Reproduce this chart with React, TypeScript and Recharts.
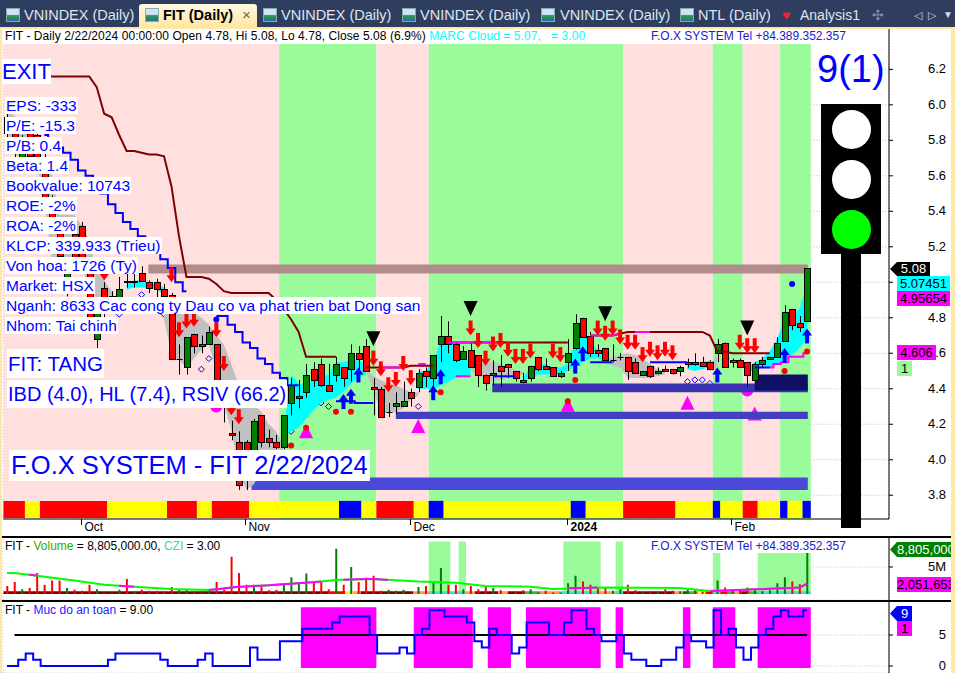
import { CSSProperties, ReactNode } from "react";
import {
    Area,
    Bar,
    CartesianGrid,
    Cell,
    ComposedChart,
    Line,
    ReferenceArea,
    ReferenceLine,
    XAxis,
    YAxis,
} from "recharts";

type Pair = [number, number];
type Band = [number, number, number];

const FONT = "'Liberation Sans', Arial, sans-serif";

const opens = [
    5.93, 5.84, 5.68, 5.86, 5.83, 5.63, 5.46, 5.34, 4.96, 5.27, 5.32, 5.05, 4.68, 4.97, 4.92, 4.90, 5.01, 5.00,
    5.05, 5.00, 5.00, 4.96, 4.93, 4.57, 4.52, 4.71, 4.64, 4.65, 4.65, 4.37, 4.15, 4.10, 4.10, 4.04, 4.25, 4.12,
    4.10, 4.07, 4.32, 4.35, 4.38, 4.51, 4.54, 4.42, 4.48, 4.52, 4.51, 4.60, 4.64, 4.41, 4.40, 4.27, 4.30, 4.30,
    4.38, 4.41, 4.50, 4.46, 4.65, 4.70, 4.65, 4.57, 4.62, 4.59, 4.48, 4.48, 4.53, 4.54, 4.50, 4.45, 4.46, 4.58,
    4.53, 4.52, 4.47, 4.55, 4.63, 4.80, 4.70, 4.62, 4.63, 4.56, 4.58, 4.58, 4.55, 4.48, 4.53, 4.49, 4.51, 4.51,
    4.50, 4.54, 4.55, 4.55, 4.55, 4.60, 4.66, 4.56, 4.56, 4.55, 4.45, 4.54, 4.57, 4.58, 4.67, 4.85, 4.77, 4.78,
];
const highs = [
    5.95, 5.86, 5.83, 5.87, 5.85, 5.75, 5.49, 5.36, 5.08, 5.30, 5.34, 5.07, 4.90, 5.00, 4.95, 5.03, 5.05, 5.05,
    5.09, 5.01, 5.02, 4.99, 4.94, 4.65, 4.69, 4.71, 4.70, 4.75, 4.65, 4.38, 4.22, 4.16, 4.11, 4.23, 4.25, 4.17,
    4.14, 4.25, 4.46, 4.45, 4.54, 4.55, 4.57, 4.54, 4.58, 4.52, 4.65, 4.64, 4.68, 4.46, 4.41, 4.32, 4.38, 4.44,
    4.40, 4.51, 4.52, 4.59, 4.81, 4.78, 4.66, 4.64, 4.66, 4.59, 4.48, 4.56, 4.59, 4.54, 4.50, 4.49, 4.53, 4.58,
    4.57, 4.52, 4.50, 4.68, 4.82, 4.80, 4.72, 4.65, 4.63, 4.65, 4.60, 4.58, 4.57, 4.50, 4.53, 4.52, 4.53, 4.51,
    4.53, 4.57, 4.60, 4.58, 4.56, 4.68, 4.66, 4.57, 4.57, 4.55, 4.55, 4.58, 4.58, 4.69, 4.87, 4.85, 4.81, 5.08,
];
const lows = [
    5.80, 5.70, 5.63, 5.69, 5.66, 5.44, 5.32, 5.12, 4.92, 5.08, 5.08, 4.76, 4.63, 4.79, 4.85, 4.85, 4.97, 4.97,
    5.01, 4.94, 4.91, 4.89, 4.57, 4.48, 4.48, 4.60, 4.60, 4.65, 4.31, 4.21, 4.11, 3.83, 3.83, 4.03, 4.07, 4.07,
    4.06, 4.06, 4.25, 4.29, 4.35, 4.41, 4.41, 4.39, 4.44, 4.41, 4.44, 4.48, 4.50, 4.25, 4.24, 4.24, 4.26, 4.30,
    4.30, 4.38, 4.41, 4.41, 4.55, 4.60, 4.55, 4.57, 4.52, 4.41, 4.39, 4.42, 4.41, 4.46, 4.44, 4.43, 4.44, 4.50,
    4.51, 4.47, 4.46, 4.50, 4.62, 4.69, 4.58, 4.58, 4.56, 4.55, 4.56, 4.45, 4.49, 4.48, 4.46, 4.48, 4.50, 4.48,
    4.47, 4.52, 4.53, 4.53, 4.51, 4.55, 4.52, 4.52, 4.52, 4.41, 4.45, 4.52, 4.57, 4.58, 4.67, 4.73, 4.72, 4.78,
];
const closes = [
    5.84, 5.75, 5.74, 5.71, 5.69, 5.46, 5.37, 5.15, 5.05, 5.12, 5.12, 4.79, 4.83, 4.87, 4.90, 4.96, 5.00, 5.01,
    5.01, 4.97, 4.96, 4.92, 4.57, 4.57, 4.69, 4.64, 4.65, 4.72, 4.34, 4.31, 4.14, 3.86, 3.90, 4.22, 4.10, 4.10,
    4.07, 4.25, 4.42, 4.36, 4.48, 4.45, 4.42, 4.39, 4.54, 4.46, 4.60, 4.57, 4.50, 4.40, 4.24, 4.27, 4.32, 4.33,
    4.35, 4.49, 4.47, 4.59, 4.70, 4.65, 4.56, 4.61, 4.52, 4.48, 4.43, 4.49, 4.50, 4.52, 4.46, 4.44, 4.53, 4.51,
    4.51, 4.47, 4.49, 4.60, 4.77, 4.69, 4.60, 4.60, 4.56, 4.56, 4.58, 4.50, 4.49, 4.50, 4.47, 4.50, 4.50, 4.49,
    4.52, 4.55, 4.54, 4.53, 4.51, 4.65, 4.52, 4.55, 4.52, 4.48, 4.54, 4.56, 4.58, 4.66, 4.83, 4.76, 4.75, 5.08,
];
const volumes = [
    1.5, 2.2, 0.9, 1.1, 3.9, 1.7, 2.5, 2.5, 1.1, 0.8, 0.6, 1.7, 0.9, 0.2, 0.2, 0.8, 2.8, 0.4, 0.8, 0.6, 0.6, 0.3,
    1.3, 0.9, 0.8, 0.3, 0.3, 0.5, 2.2, 0.8, 6.9, 3.9, 1.7, 1.7, 1.4, 0.7, 0.8, 2.0, 3.1, 1.9, 3.8, 2.3, 2.3, 0.9,
    8.4, 1.7, 5.0, 2.2, 3.0, 3.4, 0.6, 0.8, 0.6, 0.8, 0.2, 1.3, 1.5, 2.3, 4.8, 1.7, 1.7, 0.9, 1.5, 0.9, 1.5, 1.1,
    0.7, 0.2, 0.4, 0.7, 0.9, 0.3, 0.6, 0.3, 0.3, 2.0, 3.4, 2.3, 1.7, 1.2, 1.2, 0.6, 0.9, 1.7, 0.7, 0.3, 0.3, 0.5,
    0.9, 0.6, 0.5, 0.8, 0.7, 0.4, 0.3, 2.5, 1.2, 0.8, 0.8, 1.2, 0.9, 0.5, 0.7, 2.0, 3.1, 2.3, 1.8, 7.6,
];
const safety = [
    0, 0, 1, 2, 1, 0, 0, 0, 0, 0, 0, 0, 0, 0, 1, 2, 2, 2, 2, 2, 2, 1, 0, 0, 0, 0, 1, 2, 0, 0, 0, 0, 0, 3, 1, 1, 1,
    4, 4, 4, 6, 6, 6, 6, 7, 8, 8, 8, 8, 5, 2, 2, 2, 3, 2, 5, 6, 9, 9, 8, 8, 8, 7, 4, 3, 6, 5, 5, 2, 3, 7, 7, 7, 5,
    5, 7, 9, 9, 6, 5, 4, 4, 5, 2, 1, 1, 0, 0, 1, 1, 3, 5, 4, 4, 3, 9, 5, 6, 3, 1, 3, 5, 6, 8, 9, 8, 8, 9,
];

const stopLine: Pair[] = [
    [5, 6.16], [6, 6.16], [7, 6.16], [8, 6.16], [9, 6.16], [10, 6.16], [11, 6.16], [12, 6.1], [13, 5.95], [14, 5.93],
    [15, 5.83], [16, 5.74], [17, 5.74], [18, 5.73], [19, 5.72], [20, 5.72], [21, 5.71], [22, 5.54], [23, 5.26],
    [24, 5.03], [25, 5.03], [26, 5.03], [27, 5.02], [28, 4.99], [29, 4.95], [30, 4.94], [31, 4.94], [32, 4.94],
    [33, 4.94], [34, 4.94], [35, 4.94], [36, 4.9], [37, 4.85], [38, 4.79], [39, 4.72], [40, 4.58], [41, 4.58],
    [42, 4.58], [43, 4.58], [44, 4.58], [48, 4.52], [49, 4.52], [50, 4.52], [51, 4.52], [52, 4.52], [53, 4.52],
    [54, 4.53], [55, 4.53], [56, 4.53], [57, 4.53], [59, 4.66], [60, 4.66], [61, 4.66], [62, 4.66], [63, 4.66],
    [64, 4.66], [65, 4.66], [66, 4.66], [67, 4.66], [68, 4.66], [69, 4.66], [70, 4.66], [71, 4.66], [72, 4.66],
    [73, 4.66], [74, 4.66], [75, 4.66], [78, 4.7], [79, 4.7], [80, 4.7], [81, 4.7], [82, 4.71], [83, 4.72],
    [84, 4.72], [85, 4.72], [86, 4.72], [87, 4.72], [88, 4.72], [89, 4.72], [90, 4.72], [91, 4.72], [92, 4.72],
    [93, 4.72], [94, 4.7], [95, 4.61], [96, 4.61], [97, 4.6], [98, 4.6], [99, 4.6], [100, 4.6], [101, 4.6], [102, 4.6],
];
const stopMagentaRuns: Pair[] = [[50, 53], [59, 66], [78, 82], [84, 86]];
const supportMagenta: Pair[] = [
    [55, 4.54], [56, 4.54], [60, 4.47], [61, 4.47], [62, 4.47], [102, 4.52], [103, 4.54], [104, 4.55], [105, 4.58],
    [106, 4.58], [107, 4.6],
];
const supportBlue: Pair[] = [
    [5, 5.83], [6, 5.8], [7, 5.76], [8, 5.73], [9, 5.69], [10, 5.63], [11, 5.6], [12, 5.55], [13, 5.5], [14, 5.44],
    [15, 5.39], [16, 5.34], [17, 5.3], [18, 5.26], [19, 5.21], [20, 5.17], [21, 5.13], [22, 5.08], [23, 5.0],
    [24, 4.95], [28, 4.81], [29, 4.81], [30, 4.76], [31, 4.72], [32, 4.66], [33, 4.63], [34, 4.57], [35, 4.54],
    [36, 4.49], [37, 4.46], [38, 4.42], [39, 4.42], [44, 4.33], [45, 4.33], [46, 4.33], [47, 4.32], [48, 4.32],
    [49, 4.32], [65, 4.47], [66, 4.47], [67, 4.47], [68, 4.47], [78, 4.55], [79, 4.55], [80, 4.55], [81, 4.55],
    [86, 4.55], [87, 4.55], [88, 4.55], [89, 4.55], [90, 4.55], [91, 4.55], [100, 4.52], [101, 4.52], [102, 4.52],
];

// [bar, top, bottom]
const grayCloud: Band[] = [
    [0, 5.96, 5.75], [1, 5.94, 5.72], [2, 5.89, 5.7], [3, 5.84, 5.69], [4, 5.84, 5.66], [5, 5.62, 5.46], [6, 5.61, 5.13],
    [7, 5.38, 5.1], [8, 5.38, 5.08], [9, 5.38, 5.08], [10, 5.32, 5.07], [11, 5.24, 4.99], [12, 5.06, 4.9], [13, 5.01, 4.87],
    [14, 4.95, 4.87], [15, 4.87, 4.87],
    [21, 4.83, 4.79], [22, 4.87, 4.59], [23, 4.87, 4.56], [24, 4.86, 4.52], [25, 4.83, 4.57], [26, 4.8, 4.62], [27, 4.76, 4.65],
    [28, 4.7, 4.5], [29, 4.65, 4.31], [30, 4.54, 4.17], [31, 4.42, 3.94], [32, 4.37, 3.83], [33, 4.31, 3.86], [34, 4.27, 3.94],
    [35, 4.2, 4.03], [36, 4.16, 4.04], [37, 4.08, 4.04],
    [48, 4.51, 4.5], [49, 4.47, 4.39], [50, 4.45, 4.27], [51, 4.43, 4.26], [52, 4.42, 4.27], [53, 4.4, 4.29], [54, 4.38, 4.34], [55, 4.38, 4.36],
    [62, 4.52, 4.51], [63, 4.55, 4.47], [64, 4.55, 4.45], [65, 4.55, 4.44], [66, 4.54, 4.45], [67, 4.52, 4.46], [68, 4.51, 4.47], [69, 4.5, 4.48],
    [80, 4.56, 4.55], [81, 4.58, 4.53], [82, 4.59, 4.52], [83, 4.6, 4.46], [84, 4.59, 4.46], [85, 4.57, 4.46], [86, 4.54, 4.46], [87, 4.51, 4.47], [88, 4.5, 4.48],
    [94, 4.54, 4.5], [95, 4.59, 4.51],
];
const cyanCloud: Band[] = [
    [16, 4.99, 4.96], [17, 5.01, 4.97], [18, 5.01, 4.97], [19, 5.0, 4.97], [20, 4.99, 4.96], [21, 4.97, 4.93],
    [37, 4.17, 4.13], [38, 4.48, 4.16], [39, 4.43, 4.18], [40, 4.42, 4.23], [41, 4.45, 4.28], [42, 4.46, 4.32], [43, 4.48, 4.34],
    [44, 4.55, 4.35], [45, 4.55, 4.38], [46, 4.56, 4.43], [47, 4.56, 4.46], [48, 4.54, 4.48],
    [55, 4.5, 4.4], [56, 4.5, 4.4], [57, 4.56, 4.4], [58, 4.66, 4.42], [59, 4.66, 4.44], [60, 4.65, 4.46], [61, 4.59, 4.47], [62, 4.54, 4.48],
    [69, 4.46, 4.45], [70, 4.52, 4.46], [71, 4.54, 4.48], [72, 4.54, 4.48], [73, 4.52, 4.48], [74, 4.52, 4.48], [75, 4.54, 4.5],
    [76, 4.66, 4.53], [77, 4.7, 4.55], [78, 4.68, 4.57], [79, 4.61, 4.57], [80, 4.57, 4.56],
    [91, 4.54, 4.51], [92, 4.55, 4.5], [93, 4.55, 4.51], [94, 4.56, 4.52],
    [99, 4.52, 4.5], [100, 4.55, 4.5], [101, 4.57, 4.52], [102, 4.61, 4.52], [103, 4.68, 4.54], [104, 4.8, 4.55], [105, 4.82, 4.59], [106, 4.85, 4.63], [107, 5.0, 4.68],
];

const redArrows: Pair[] = [
    [10, 5.21], [13, 5.01], [22, 5.0], [23, 4.69], [24, 4.74], [25, 4.75], [28, 4.69], [29, 4.5], [30, 4.25], [31, 4.2],
    [49, 4.53], [50, 4.47], [51, 4.38], [52, 4.41], [53, 4.5], [54, 4.42], [62, 4.7], [63, 4.63], [64, 4.53], [65, 4.61],
    [66, 4.63], [67, 4.58], [68, 4.54], [69, 4.54], [70, 4.57], [73, 4.57], [74, 4.55], [79, 4.7], [80, 4.67], [81, 4.7],
    [82, 4.65], [83, 4.62], [84, 4.62], [85, 4.55], [86, 4.58], [87, 4.56], [88, 4.58], [89, 4.56], [98, 4.62], [99, 4.6], [100, 4.6],
];
const blueArrows: Pair[] = [
    [45, 4.37], [46, 4.4], [47, 4.52], [57, 4.42], [58, 4.51], [76, 4.57], [77, 4.64], [95, 4.52], [104, 4.63], [107, 4.74],
];
const blackTriangles: Pair[] = [[49, 4.64], [62, 4.81], [80, 4.78], [99, 4.7]];
const magentaTriangles: Pair[] = [[40, 4.2], [55, 4.23], [75, 4.35], [91, 4.36], [100, 4.3]];
const magentaSpots: Pair[] = [[28, 4.3], [99, 4.39]];
const redDots: Pair[] = [
    [38, 4.08], [40, 4.18], [44, 4.27], [46, 4.27], [58, 4.38], [75, 4.33], [76, 4.45], [104, 4.5], [107, 4.61],
];
const hollowDiamonds: Pair[] = [
    [15, 4.82], [18, 4.93], [21, 4.82], [26, 4.51], [27, 4.57], [38, 4.16], [39, 4.21], [40, 4.26], [41, 4.34], [42, 4.32],
    [43, 4.3], [55, 4.3], [91, 4.44], [92, 4.45], [93, 4.45], [94, 4.43],
];
const blueDots: Pair[] = [[28, 4.79], [105, 4.99]];

// price bands drawn across the right part of the price pane: [first bar, top, bottom]
const bandBrown: Band = [18.9, 5.1, 5.05];
const bandTop: Band = [64.9, 4.43, 4.38];
const bandMiddle: Band = [52, 4.27, 4.23];
const bandBottom: Band = [32.7, 3.9, 3.83];
const bandNavy: Band = [100, 4.48, 4.39];

const zoneEdges = [-0.5, 36.4, 49.4, 56.4, 82.4, 94.4, 98.4, 103.4, 107.5];
const zoneKinds = ["pink", "green", "pink", "green", "pink", "green", "pink", "green"];
const stripEdges = [
    -0.5, 2.4, 4.4, 13.4, 21.4, 25.4, 27.4, 32.4, 44.4, 47.4, 49.4, 54.4, 56.4, 58.4, 75.4, 77.4, 82.4, 89.4, 94.4, 95.4,
    98.4, 100.4, 103.4, 104.4, 106.4, 107.5,
];
const stripKinds = "RYRYRYRYBYRYBYBYRYBYRYBYB".split("");
const volumeStripEdges = [
    -0.5, 43.2, 45.2, 46.3, 47.3, 54.3, 56.6, 61.3, 62.6, 65.7, 67, 69.3, 71.4, 74, 79.3, 81.3, 82.4, 89.3, 90.4, 91.3, 92.4,
    93.4, 94.4, 95.4, 96.4, 97.4, 98.2, 99.2, 100.4, 107.5,
];
const volumeStripKinds = [
    "#800000", "#ff0000", "#ffff00", "#ff9944", "#800000", "#ff9944", "#40e0d0", "#ff9944", "#800000", "#ff9944", "#800000",
    "#33bb33", "#ff9944", "#40e0d0", "#ff9944", "#40e0d0", "#800000", "#ff9944", "#006400", "#33bb33", "#ffff00", "#ff0000",
    "#40e0d0", "#ff0000", "#33bb33", "#ff9944", "#800000", "#33bb33", "#40e0d0",
];
const volumeZones: Band[] = [
    [56.4, 59.3, 9.7], [60.4, 61.4, 9.7], [74.4, 79.4, 9.7], [81.4, 82.4, 9.7], [94.4, 95.4, 7.6], [100.4, 107.5, 7.6],
];
const safetyZones: Pair[] = [
    [39.3, 49.4], [54.4, 62.3], [64.3, 67.4], [69.4, 79.4], [81.4, 82.4], [90.4, 91.4], [94.4, 97.4], [100.4, 107.5],
];

const volumeAverage: Pair[] = [
    [0, 3.9], [1, 3.9], [4, 3.4], [9, 2.5], [13, 1.7], [17, 1.35], [22, 0.93], [27, 0.74], [31, 1.35], [35, 1.6], [42, 2.3],
    [44, 2.6], [49, 2.8], [55, 2.3], [60, 2.1], [64, 1.5], [70, 1.35], [73, 0.93], [80, 1.2], [90, 1.1], [94, 0.55], [100, 0.87],
    [106, 1.2], [107, 1.9],
];
const volumeAverageMagenta: Pair[] = [
    [3, 3.6], [4, 3.4], [15, 1.55], [16, 1.45], [17, 1.35], [27, 0.74], [28, 0.9], [29, 1.0], [30, 1.2], [31, 1.35], [32, 1.4],
    [33, 1.5], [34, 1.55], [35, 1.6], [36, 1.7], [37, 1.8], [38, 1.9], [39, 2.0], [40, 2.1], [41, 2.2], [42, 2.3], [45, 2.65],
    [46, 2.7], [47, 2.75], [48, 2.8], [49, 2.8], [50, 2.7], [51, 2.6], [75, 1.05], [76, 1.1], [77, 1.1], [78, 1.15], [79, 1.2],
    [94, 0.55], [95, 0.6], [96, 0.65], [97, 0.7], [98, 0.75], [99, 0.8], [100, 0.87], [101, 0.9], [102, 0.95], [103, 1.0],
    [104, 1.05], [105, 1.1], [106, 1.2], [107, 1.9],
];

const priceTicks = [3.8, 4.0, 4.2, 4.4, 4.6, 4.8, 5.0, 5.2, 5.4, 5.6, 5.8, 6.0, 6.2];
const monthTicks = [10, 32, 54, 75, 97];
const monthLabels = ["Oct", "Nov", "Dec", "2024", "Feb"];
const infoLines = [
    "EPS: -333", "P/E: -15.3", "P/B: 0.4", "Beta: 1.4", "Bookvalue: 10743", "ROE: -2%", "ROA: -2%", "KLCP: 339.933 (Trieu)",
    "Von hoa: 1726 (Ty)", "Market: HSX", "Nganh: 8633 Cac cong ty Dau co va phat trien bat Dong san", "Nhom: Tai chinh",
];

const fromPairs = (pairs: Pair[]) => {
    const out: (number | null)[] = opens.map(() => null);
    pairs.forEach(([i, v]) => { out[i] = v; });
    return out;
};
const fromBands = (bands: Band[]) => {
    const out: (number[] | null)[] = opens.map(() => null);
    bands.forEach(([i, top, bottom]) => { out[i] = [bottom, top]; });
    return out;
};

const stopValues = fromPairs(stopLine);
const stopMagenta = stopValues.map((v, i) => (stopMagentaRuns.some(([a, b]) => i >= a && i <= b) ? v : null));
const support = fromPairs(supportBlue);
const supportPink = fromPairs(supportMagenta);
const gray = fromBands(grayCloud);
const cyan = fromBands(cyanCloud);
const downs = fromPairs(redArrows);
const ups = fromPairs(blueArrows);
const blackTri = fromPairs(blackTriangles);
const pinkTri = fromPairs(magentaTriangles);
const pinkSpot = fromPairs(magentaSpots);
const reds = fromPairs(redDots);
const hollows = fromPairs(hollowDiamonds);
const blues = fromPairs(blueDots);
const avg = fromPairs(volumeAverage);
const avgPink = fromPairs(volumeAverageMagenta);

const priceRows = opens.map((open, i) => ({
    i,
    open,
    high: highs[i],
    low: lows[i],
    close: closes[i],
    range: [lows[i], highs[i]],
    stop: stopValues[i],
    stopPink: stopMagenta[i],
    support: support[i],
    supportPink: supportPink[i],
    gray: gray[i],
    cyan: cyan[i],
    down: downs[i],
    up: ups[i],
    blackTri: blackTri[i],
    pinkTri: pinkTri[i],
    pinkSpot: pinkSpot[i],
    red: reds[i],
    hollow: hollows[i],
    blue: blues[i],
}));
const volumeRows = opens.map((open, i) => ({
    i,
    volume: volumes[i],
    rising: closes[i] >= open,
    avg: avg[i],
    avgPink: avgPink[i],
}));
const safetyRows = safety.map((value, i) => ({ i, value }));

const X_DOMAIN: [number, number] = [-0.5, 117.96];
const PRICE_DOMAIN: [number, number] = [3.666, 6.433];
const MARGIN = { top: 0, right: 0, bottom: 0, left: 3.26 };

const Candle = (props: any) => {
    const { x, y, width, height, payload } = props;
    const { open, close, high, low } = payload;
    const top = Math.min(y, y + height);
    const full = Math.abs(height);
    const at = (v: number) => top + ((high - v) / (high - low)) * full;
    const cx = Math.round(x + width / 2) + 0.5;
    const bodyTop = Math.round(at(Math.max(open, close))) + 0.5;
    const bodyBottom = Math.round(at(Math.min(open, close))) + 0.5;
    return (
        <g>
            <line x1={cx} x2={cx} y1={top} y2={top + full} stroke="#000" />
            {open === close
                ? <line x1={cx - 3} x2={cx + 3} y1={bodyTop} y2={bodyTop} stroke="#000" />
                : <rect x={cx - 3} y={bodyTop} width={6} height={bodyBottom - bodyTop} fill={close > open ? "#008000" : "#ff0000"} stroke="#000" />}
        </g>
    );
};

const marker = (draw: (cx: number, cy: number) => ReactNode) => (props: any) => {
    const { cx, cy, index } = props;
    if (cy == null || Number.isNaN(cy)) return <g key={index} />;
    return <g key={index}>{draw(cx, cy)}</g>;
};

const downArrow = marker((cx, cy) => (
    <g fill="#ff0000">
        <rect x={cx - 2} y={cy - 15} width={4} height={9} />
        <polygon points={`${cx - 5},${cy - 7} ${cx + 5},${cy - 7} ${cx},${cy}`} />
    </g>
));
const upArrow = marker((cx, cy) => (
    <g fill="#0000ff">
        <rect x={cx - 2} y={cy + 6} width={4} height={9} />
        <polygon points={`${cx - 5},${cy + 7} ${cx + 5},${cy + 7} ${cx},${cy}`} />
    </g>
));
const blackTriangle = marker((cx, cy) => (
    <polygon points={`${cx - 7},${cy - 15} ${cx + 7},${cy - 15} ${cx},${cy}`} fill="#000" />
));
const magentaTriangle = marker((cx, cy) => (
    <polygon points={`${cx - 7},${cy + 14} ${cx + 7},${cy + 14} ${cx},${cy}`} fill="#ff00ff" />
));
const magentaSpot = marker((cx, cy) => <circle cx={cx} cy={cy} r={6} fill="#ff00ff" />);
const redDot = marker((cx, cy) => <circle cx={cx} cy={cy} r={3} fill="#ff0000" />);
const blueDot = marker((cx, cy) => <circle cx={cx} cy={cy} r={3} fill="#0000ff" />);
const hollowDiamond = marker((cx, cy) => (
    <polygon points={`${cx},${cy - 3} ${cx + 3},${cy} ${cx},${cy + 3} ${cx - 3},${cy}`} fill="none" stroke="#0000ff" />
));

const RightTick = (props: any) => (
    <text x={946} y={props.y + 4} textAnchor="end" fontFamily={FONT} fontSize={13} fill="#000">{props.label(props.payload.value)}</text>
);
const MonthTick = (props: any) => {
    const idx = monthTicks.indexOf(props.payload.value);
    const px = Math.round(props.x) - 0.5;
    return (
        <g>
            <line x1={px} x2={px} y1={519} y2={525} stroke="#000" />
            <text x={px + 3} y={531} fontFamily={FONT} fontSize={12} fontWeight={monthLabels[idx] === "2024" ? 700 : 400} fill="#000">
                {monthLabels[idx]}
            </text>
        </g>
    );
};

const area = (key: string, x1: number, x2: number, y1: number, y2: number, fill: string) => (
    <ReferenceArea key={key} x1={x1} x2={x2} y1={y1} y2={y2} fill={fill} fillOpacity={1} stroke="none" ifOverflow="hidden" />
);
const band = (key: string, b: Band, fill: string) => area(key, b[0], 107.1, b[2], b[1], fill);

const series = (dataKey: string, stroke: string, type: any = "linear", width = 2) => (
    <Line key={dataKey} dataKey={dataKey} stroke={stroke} strokeWidth={width} type={type} dot={false} activeDot={false} isAnimationActive={false} />
);
const marks = (dataKey: string, dot: any) => (
    <Line key={dataKey} dataKey={dataKey} stroke="none" dot={dot} activeDot={false} legendType="none" isAnimationActive={false} />
);

// zones, axes and the marks that sit under the bands
const PriceBase = () => (
    <ComposedChart width={955} height={536} data={priceRows} margin={{ ...MARGIN, top: 28 }}>
        <CartesianGrid stroke="#bbb" strokeDasharray="1 2" />
        <XAxis dataKey="i" type="number" domain={X_DOMAIN} allowDataOverflow ticks={monthTicks} interval={0} height={17} axisLine={{ stroke: "#000" }} tickLine={false} tick={<MonthTick />} />
        <YAxis orientation="right" type="number" domain={PRICE_DOMAIN} allowDataOverflow ticks={priceTicks} interval={0} width={66} axisLine={{ stroke: "#000" }} tickLine={{ stroke: "#000" }} tickSize={4} tick={<RightTick label={(v: number) => v.toFixed(1)} />} />
        {zoneKinds.map((kind, k) => area(`z${k}`, zoneEdges[k], zoneEdges[k + 1], 3.666, 6.343, kind === "pink" ? "#ffe0de" : "#9afb9a"))}
        {stripKinds.map((kind, k) => area(`s${k}`, stripEdges[k], stripEdges[k + 1], 3.672, 3.768, kind === "R" ? "#ff0000" : kind === "Y" ? "#ffff00" : "#0000ff"))}
        {marks("pinkTri", magentaTriangle)}
        {marks("pinkSpot", magentaSpot)}
        {marks("hollow", hollowDiamond)}
    </ComposedChart>
);

// same plot area as PriceBase, laid over it
const PriceTop = () => (
    <ComposedChart width={955} height={536} data={priceRows} margin={{ top: 28, right: 66, bottom: 17, left: 3.26 }}>
        <XAxis dataKey="i" type="number" domain={X_DOMAIN} allowDataOverflow hide />
        <YAxis type="number" domain={PRICE_DOMAIN} allowDataOverflow hide />
        {band("b1", bandBrown, "#b28c8c")}
        {band("b2", bandTop, "#3a32b0")}
        {band("b3", bandMiddle, "#4240c0")}
        {band("b4", bandBottom, "#4b49d8")}
        {band("b5", bandNavy, "#100f66")}
        <Area dataKey="gray" stroke="none" fill="#c0c0c0" fillOpacity={1} dot={false} activeDot={false} isAnimationActive={false} />
        <Area dataKey="cyan" stroke="none" fill="#00ffff" fillOpacity={1} dot={false} activeDot={false} isAnimationActive={false} />
        {series("stop", "#800000")}
        {series("stopPink", "#ff00ff")}
        {series("support", "#0000ff", "step")}
        {series("supportPink", "#ff00ff", "step")}
        <Bar dataKey="range" barSize={6} shape={<Candle />} isAnimationActive={false} />
        {marks("blackTri", blackTriangle)}
        {marks("down", downArrow)}
        {marks("up", upArrow)}
        {marks("red", redDot)}
        {marks("blue", blueDot)}
    </ComposedChart>
);

const VolumeChart = () => (
    <ComposedChart width={955} height={64} data={volumeRows} margin={MARGIN}>
        <CartesianGrid stroke="#bbb" strokeDasharray="1 2" />
        <XAxis dataKey="i" type="number" domain={X_DOMAIN} allowDataOverflow ticks={monthTicks} height={0} tick={false} axisLine={false} tickLine={false} />
        <YAxis orientation="right" type="number" domain={[-1.11, 10.74]} allowDataOverflow ticks={[5]} interval={0} width={66} axisLine={{ stroke: "#000" }} tickLine={{ stroke: "#000" }} tickSize={4} tick={<RightTick label={(v: number) => `${v}M`} />} />
        {area("white", -0.5, 107.5, -0.37, 9.63, "#fff")}
        {volumeZones.map((z, k) => area(`v${k}`, z[0], z[1], 0, z[2], "#9afb9a"))}
        <Bar dataKey="volume" barSize={2} isAnimationActive={false}>
            {volumeRows.map((row) => <Cell key={row.i} fill={row.rising ? "#008000" : "#ff0000"} />)}
        </Bar>
        {volumeStripKinds.map((fill, k) => area(`vs${k}`, volumeStripEdges[k], volumeStripEdges[k + 1], 0, 0.5, fill))}
        <Line dataKey="avg" stroke="#00ff00" strokeWidth={2} dot={false} activeDot={false} connectNulls isAnimationActive={false} />
        <Line dataKey="avgPink" stroke="#ff00ff" strokeWidth={2} dot={false} activeDot={false} isAnimationActive={false} />
    </ComposedChart>
);

const SafetyChart = () => (
    <ComposedChart width={955} height={73} data={safetyRows} margin={MARGIN}>
        <CartesianGrid stroke="#bbb" strokeDasharray="1 2" />
        <XAxis dataKey="i" type="number" domain={X_DOMAIN} allowDataOverflow ticks={monthTicks} height={0} tick={false} axisLine={false} tickLine={false} />
        <YAxis orientation="right" type="number" domain={[-1.13, 10.65]} allowDataOverflow ticks={[0, 5]} interval={0} width={66} axisLine={{ stroke: "#000" }} tickLine={{ stroke: "#000" }} tickSize={4} tick={<RightTick label={(v: number) => `${v}`} />} />
        {area("white", -0.5, 107.5, -0.48, 9.68, "#fff")}
        {safetyZones.map((z, k) => area(`m${k}`, z[0], z[1], -0.32, 9.5, "#ff00ff"))}
        <ReferenceLine segment={[{ x: 1, y: 5 }, { x: 107, y: 5 }]} stroke="#000" strokeWidth={2} />
        <Line dataKey="value" stroke="#0000ff" strokeWidth={2} type="step" dot={false} activeDot={false} isAnimationActive={false} />
    </ComposedChart>
);

const box = (x: number, y: number, w: number | undefined, h: number, extra: CSSProperties = {}): CSSProperties => ({
    position: "absolute", left: x, top: y, width: w, height: h, lineHeight: `${h}px`, whiteSpace: "nowrap", ...extra,
});

const Label = ({ x, y, h, size, color = "#0000ff", bg = "#fff", pad = 0, children }: any) => (
    <div style={box(x, y, undefined, h, { fontSize: size, color, background: bg, padding: `0 ${pad}px` })}>{children}</div>
);

const Tag = ({ x, y, w, h = 15, bg, color = "#000", arrow, left, children }: any) => (
    <div style={box(x, y, w, h, {
        background: bg, color, fontSize: 13, textAlign: left ? "left" : "center", overflow: "hidden",
        clipPath: arrow ? `polygon(0 50%, 7px 0, 100% 0, 100% 100%, 7px 100%)` : undefined,
        paddingLeft: arrow ? 7 : 0, boxSizing: "border-box",
    })}>{children}</div>
);

const tabs = [
    { x: 24, icon: 6, label: "VNINDEX (Daily)" },
    { x: 281, icon: 263, label: "VNINDEX (Daily)" },
    { x: 420, icon: 402, label: "VNINDEX (Daily)" },
    { x: 560, icon: 541, label: "VNINDEX (Daily)" },
    { x: 698, icon: 680, label: "NTL (Daily)" },
];
const TabIcon = ({ x }: { x: number }) => (
    <div style={box(x, 8, 14, 14, { background: "linear-gradient(#cfe3f7 45%, #3a9a3a 55%, #1c6fb0)", border: "1px solid #8aa", boxSizing: "border-box" })} />
);

const Chrome = () => (
    <>
        <div style={box(0, 0, 955, 27, { background: "#2f3e5f" })} />
        <div style={box(0, 27, 955, 2, { background: "#ffe8a6" })} />
        <div style={box(0, 27, 2, 646, { background: "#ffe8a6" })} />
        <div style={box(951, 27, 4, 646, { background: "#ffe8a6" })} />
        {tabs.map((t) => (
            <div key={t.x}>
                <TabIcon x={t.icon} />
                <div style={box(t.x, 6, undefined, 18, { color: "#dfe6ef", fontSize: 14.5 })}>{t.label}</div>
            </div>
        ))}
        <div style={box(139, 4, 118, 23, { background: "linear-gradient(#fff8e2, #ffe6a2)", borderRadius: "3px 3px 0 0" })} />
        <TabIcon x={145} />
        <div style={box(163, 6, undefined, 18, { color: "#000", fontSize: 14.5, fontWeight: 700 })}>FIT (Daily)</div>
        <div style={box(242, 6, undefined, 18, { color: "#6a6a5a", fontSize: 15 })}>×</div>
        <div style={box(782, 8, 14, 14, { color: "#e23", fontSize: 14 })}>♥</div>
        <div style={box(800, 6, undefined, 18, { color: "#dfe6ef", fontSize: 14 })}>Analysis1</div>
        <div style={box(872, 6, undefined, 18, { color: "#8390a8", fontSize: 14 })}>✣</div>
        <div style={box(914, 6, undefined, 18, { color: "#cfd6e2", fontSize: 11 })}>◁</div>
        <div style={box(928, 6, undefined, 18, { color: "#cfd6e2", fontSize: 11 })}>▷</div>
        <div style={box(943, 6, undefined, 18, { color: "#cfd6e2", fontSize: 10 })}>▼</div>
    </>
);

const Titles = () => (
    <>
        <div style={box(3, 29, 848, 15, { background: "#fff", fontSize: 12, letterSpacing: 0.07, paddingLeft: 2, boxSizing: "border-box" })}>
            FIT - Daily 2/22/2024 00:00:00 Open 4.78, Hi 5.08, Lo 4.78, Close 5.08 (6.9%) <span style={{ color: "#00ffff" }}>MARC Cloud = 5.07, &nbsp; = 3.00</span>
        </div>
        <div style={box(651, 29, undefined, 15, { color: "#2020d0", fontSize: 12 })}>F.O.X SYSTEM Tel +84.389.352.357</div>
        <div style={box(5, 539, undefined, 14, { fontSize: 12 })}>
            FIT - <span style={{ color: "#33aa00" }}>Volume</span> = 8,805,000.00, <span style={{ color: "#40d0d0" }}>CZI</span> = 3.00
        </div>
        <div style={box(651, 539, undefined, 14, { color: "#2020d0", fontSize: 12 })}>F.O.X SYSTEM Tel +84.389.352.357</div>
        <div style={box(5, 603, undefined, 14, { fontSize: 12 })}>
            FIT - <span style={{ color: "#2020ff" }}>Muc do an toan</span> = 9.00
        </div>
    </>
);

const Info = () => (
    <>
        <Label x={2} y={59} h={25} size={22}>EXIT</Label>
        {infoLines.map((line, k) => (
            <Label key={line} x={5} y={97 + k * 20} h={17} size={15.5} pad={1}>{line}</Label>
        ))}
        <Label x={7} y={349} h={29} size={20.5} pad={1}>FIT: TANG</Label>
        <Label x={7} y={380} h={28} size={20} pad={1}>IBD (4.0), HL (7.4), RSIV (66.2)</Label>
        <Label x={9} y={450} h={31} size={25.5} pad={2}>F.O.X SYSTEM - FIT 2/22/2024</Label>
        <div style={box(817, 44, undefined, 50, { color: "#0000ff", fontSize: 38 })}>9(1)</div>
    </>
);

const TrafficLight = () => {
    const light = (cy: number, fill: string) => (
        <div key={cy} style={{ position: "absolute", left: 832, top: cy - 19, width: 39, height: 39, borderRadius: "50%", background: fill }} />
    );
    return (
        <>
            <div style={box(821, 104, 60, 150, { background: "#000" })} />
            <div style={box(841, 254, 20, 274, { background: "#000" })} />
            {light(129, "#fff")}
            {light(179, "#fff")}
            {light(229, "#00ff00")}
        </>
    );
};

const Tags = () => (
    <>
        <Tag x={890} y={262} w={40} h={14} bg="#000" color="#fff" arrow>5.08</Tag>
        <Tag x={897} y={276} w={53} bg="#00ffff">5.07451</Tag>
        <Tag x={897} y={291} w={53} bg="#ff00ff">4.95654</Tag>
        <Tag x={897} y={345} w={39} bg="#ff00ff">4.606</Tag>
        <Tag x={897} y={361} w={15} bg="#9afb9a">1</Tag>
        <Tag x={890} y={542} w={61} bg="#008000" color="#fff" arrow left>8,805,000</Tag>
        <Tag x={897} y={577} w={54} bg="#ff00ff" left>2,051,653</Tag>
        <Tag x={890} y={606} w={22} bg="#0000ff" color="#fff" arrow>9</Tag>
        <Tag x={897} y={621} w={15} bg="#ff00ff">1</Tag>
    </>
);

export default function App() {
    return (
        <div style={{ position: "fixed", left: 0, top: 0, width: 955, height: 673, overflow: "hidden", background: "#fff", fontFamily: FONT }}>
            <div style={{ position: "absolute", left: 0, top: 0 }}><PriceBase /></div>
            <div style={{ position: "absolute", left: 0, top: 0 }}><PriceTop /></div>
            <div style={{ position: "absolute", left: 0, top: 536 }}><VolumeChart /></div>
            <div style={{ position: "absolute", left: 0, top: 600 }}><SafetyChart /></div>
            <div style={box(2, 536, 949, 1.5, { background: "#000" })} />
            <div style={box(2, 600, 949, 1.5, { background: "#000" })} />
            <Titles />
            <TrafficLight />
            <Info />
            <Tags />
            <Chrome />
        </div>
    );
}
